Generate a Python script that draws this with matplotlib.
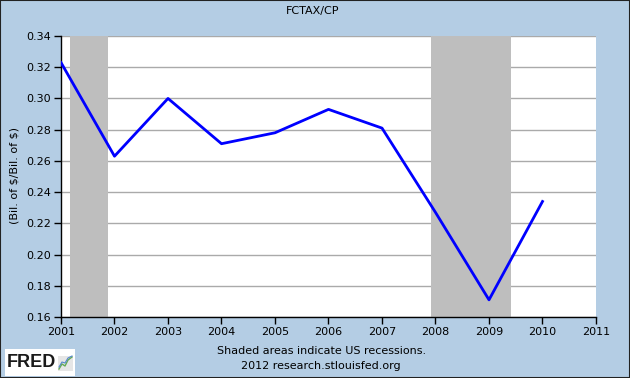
import matplotlib.pyplot as plt
from matplotlib.patches import Rectangle

years = [2001, 2002, 2003, 2004, 2005, 2006, 2007, 2008, 2009, 2010]
ratio = [0.323, 0.263, 0.300, 0.271, 0.278, 0.293, 0.281, 0.227, 0.171, 0.234]
recessions = [(2001.17, 2001.87), (2007.92, 2009.42)]
yticks = [0.16, 0.18, 0.20, 0.22, 0.24, 0.26, 0.28, 0.30, 0.32, 0.34]
xticks = list(range(2001, 2012))

bg = '#b4cde4'
fig = plt.figure(figsize=(6.3, 3.78), dpi=100, facecolor=bg)
fig.patches.append(Rectangle((0, 0), 1, 1, transform=fig.transFigure,
                             fill=False, edgecolor='#222222', linewidth=1.5))
ax = fig.add_axes([61 / 630, 1 - 317 / 378, 535 / 630, 281 / 378])
ax.set_facecolor('white')

for start, end in recessions:
    ax.axvspan(start, end, color='#bebebe', zorder=1, linewidth=0)

ax.set_yticks(yticks)
ax.set_yticklabels([f"{t:.2f}" for t in yticks])
ax.set_xticks(xticks)
ax.set_xlim(2001, 2011)
ax.set_ylim(0.16, 0.34)
ax.grid(axis='y', color='#aaaaaa', linewidth=1, zorder=0)
ax.set_axisbelow(True)

ax.plot(years, ratio, color='#0000ff', linewidth=2, zorder=3)

for s in ['top', 'right']:
    ax.spines[s].set_visible(False)
for s in ['left', 'bottom']:
    ax.spines[s].set_color('black')
    ax.spines[s].set_linewidth(1)
ax.tick_params(direction='out', length=5, width=1, labelsize=8, colors='black', pad=2)

fig.text(15 / 630, 1 - 176 / 378, r"(Bil. of \$/Bil. of \$)", ha='center', va='center',
         rotation=90, fontsize=8)

fig.text(0.497, 1 - 11 / 378, "FCTAX/CP", ha='center', va='center', fontsize=8)
fig.text(0.51, 1 - 351 / 378, "Shaded areas indicate US recessions.", ha='center', va='center', fontsize=8)
fig.text(0.51, 1 - 366 / 378, "2012 research.stlouisfed.org", ha='center', va='center', fontsize=8)

# FRED logo box
fig.patches.append(Rectangle((5 / 630, 1 - 376 / 378), 70 / 630, 27 / 378,
                             transform=fig.transFigure, facecolor='white', edgecolor='none'))
fig.text(7 / 630, 1 - 362.5 / 378, "FRED", ha='left', va='center', fontsize=13,
         fontweight='bold', family='Liberation Sans', color='#1a1a1a')
fig.patches.append(Rectangle((58 / 630, 1 - 371 / 378), 15 / 630, 15 / 378,
                             transform=fig.transFigure, facecolor='#e6e6e6', edgecolor='none'))
lx = [59, 62, 65, 68, 72]
ly = [369, 364, 366, 360, 357]
fig.lines.append(plt.Line2D([x / 630 for x in lx], [1 - y / 378 for y in ly],
                            transform=fig.transFigure, color='#66aa55', linewidth=1))
ly2 = [367, 362, 363, 358, 356]
fig.lines.append(plt.Line2D([x / 630 for x in lx], [1 - y / 378 for y in ly2],
                            transform=fig.transFigure, color='#5588cc', linewidth=0.8))

fig.savefig('out.png', dpi=100, facecolor=bg)
